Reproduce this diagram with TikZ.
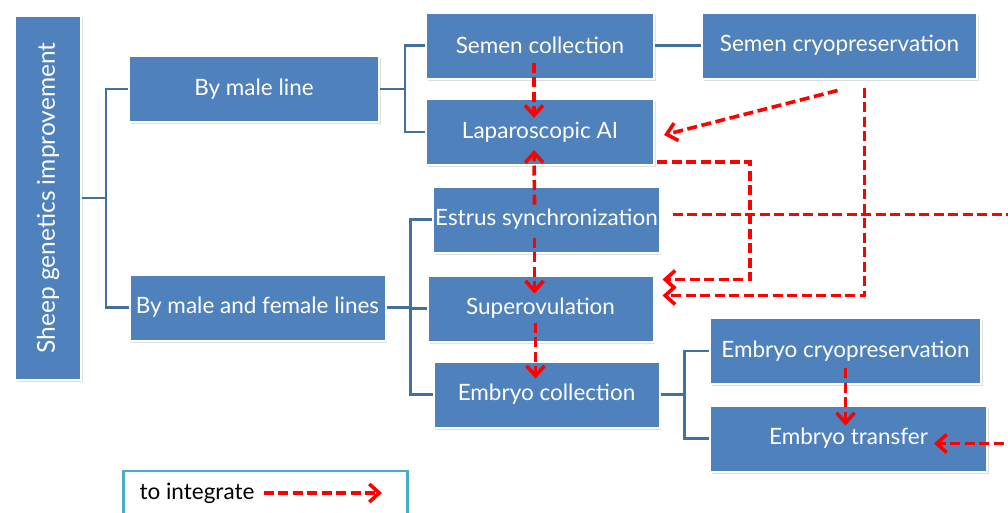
\documentclass[tikz,border=0pt]{standalone}
\usepackage{fontspec}
\setmainfont{Lato}
\usepackage{tikz}
\usetikzlibrary{arrows.meta, calc, shadows}
\definecolor{boxblue}{HTML}{4F81BD}
\definecolor{treeblue}{HTML}{41719C}
\definecolor{legendteal}{HTML}{4BACC6}
\tikzstyle{process} = [rectangle, minimum height=66pt, inner sep=2pt, text centered, draw=white, line width=2pt, fill=boxblue, text=white, font=\fontsize{22.5}{26}\selectfont, drop shadow={shadow xshift=1.5pt, shadow yshift=-2pt, opacity=0.25}]
\tikzstyle{branch} = [draw=treeblue, line width=2.4pt]
\tikzstyle{arrow} = [draw=red, line width=3.6pt, dash pattern=on 10pt off 4.5pt, -{Straight Barb[length=10pt, width=18pt]}]
\tikzstyle{legend_box} = [rectangle, draw=legendteal, line width=2.5pt, fill=white, minimum width=284pt, minimum height=60pt]

\begin{document}
\begin{tikzpicture}[x=1pt, y=-1pt]
		\useasboundingbox (0,0) rectangle (1008,512);
		\node (sheep) [process, minimum width=66pt, minimum height=364pt, font=\fontsize{24.5}{28}\selectfont] at (48,198) {\rotatebox{90}{Sheep genetics improvement}};
		\node (male_line) [process, minimum width=250pt] at (254,89) {By male line};
		\node (both_lines) [process, minimum width=256pt] at (257.5,307.5) {By male and female lines};
		\node (semen_coll) [process, minimum width=228pt] at (540,45.5) {Semen collection};
		\node (semen_cryo) [process, minimum width=275pt] at (839.5,45.5) {Semen cryopreservation};
		\node (lap_ai) [process, minimum width=228pt] at (540,132) {Laparoscopic AI};
		\node (estrus_sync) [process, minimum width=226pt] at (546.5,219.5) {Estrus synchronization};
		\node (super_ov) [process, minimum width=226pt] at (540.5,308.5) {Superovulation};
		\node (embryo_coll) [process, minimum width=226pt] at (546.5,394.5) {Embryo collection};
		\node (embryo_cryo) [process, minimum width=271pt] at (845.5,351) {Embryo cryopreservation};
		\node (embryo_trans) [process, minimum width=277pt] at (848.5,438.5) {Embryo transfer};
		
		\draw [branch] (sheep.east) -- ++(24,0) |- (male_line.west);
		\draw [branch] (sheep.east) -- ++(24,0) |- (both_lines.west);
		\draw [branch] (male_line.east) -- ++(25,0) |- (semen_coll.west);
		\draw [branch] (male_line.east) -- ++(25,0) |- (lap_ai.west);
		\draw [branch] (semen_coll) -- (semen_cryo);
		\draw [branch] (both_lines.east) -- ++(24,0) |- (estrus_sync.west);
		\draw [branch] (both_lines.east) -- ++(24,0) |- (super_ov.west);
		\draw [branch] (both_lines.east) -- ++(24,0) |- (embryo_coll.west);
		\draw [branch] (embryo_coll.east) -- ++(24,0) |- (embryo_cryo.west);
		\draw [branch] (embryo_coll.east) -- ++(24,0) |- (embryo_trans.west);
		
		\draw [arrow] ($(semen_coll.center)+(-6,17)$) -- ($(lap_ai.center)+(-6,-14)$);
		\draw [arrow] ($(semen_cryo.south)+(-2,11)$) -- ($(lap_ai.east)+(9,3)$);
		\draw [arrow] ($(lap_ai.east)+(2,30)$) -- ++(93,0) |- ($(super_ov.east)+(8,-29)$);
		\draw [arrow] ($(semen_cryo.south)+(25,8)$) |- ($(super_ov.east)+(8,-13)$);
		\draw [arrow] ($(estrus_sync.east)+(12,-5)$) -- ++(370,0) |- ($(embryo_trans.east)+(-54,5)$);
		\draw [arrow] ($(estrus_sync.center)+(-12,-15)$) -- ($(lap_ai.center)+(-6,18)$);
		\draw [arrow] ($(estrus_sync.center)+(-12,18)$) -- ($(super_ov.center)+(-6,-15)$);
		\draw [arrow] ($(super_ov.center)+(-5,14)$) -- ($(embryo_coll.center)+(-11,-16)$);
		\draw [arrow] ($(embryo_cryo.center)+(0,17)$) -- ($(embryo_trans.center)+(-3,-13)$);
		
		\node (legend) [legend_box] at (265.5,501) {};
		\node (legend_text) [anchor=west, font=\fontsize{22.5}{26}\selectfont] at (136,493) {to integrate};
		\coordinate (legend_end) at (382,493);
		\draw [arrow] ($(legend_text.east)+(6,0)$) -- (legend_end);
		\end{tikzpicture}
\end{document}
